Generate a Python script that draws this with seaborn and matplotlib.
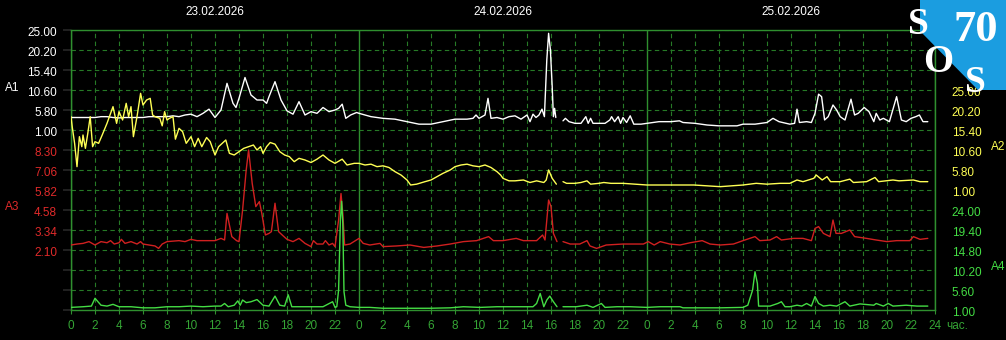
import matplotlib
matplotlib.use("Agg")
import matplotlib.pyplot as plt
from matplotlib.patches import Polygon
from matplotlib.ticker import FixedLocator, FixedFormatter
from matplotlib.transforms import ScaledTranslation
import pandas as pd
import seaborn as sns

# ---------------- data (hours from start of 23.02.2026, value) ----------------
DATES = ["23.02.2026", "24.02.2026", "25.02.2026"]
GAP_AFTER = 40.6          # data missing between ~40.5 h and 41.0 h

A1 = [(0, 4.0), (0.5, 4.0), (1, 4.0), (1.5, 4.0), (2, 4.0), (2.5, 4.2), (3, 4.2), (3.5, 4.0),
      (4, 3.9), (4.5, 4.0), (5, 4.0), (5.5, 4.0), (6, 4.0), (6.5, 4.2), (7, 4.2), (7.5, 4.2),
      (8, 4.2), (8.5, 4.4), (9, 4.2), (9.5, 4.6), (10, 4.8), (10.5, 4.2), (11, 5.0), (11.5, 6.0),
      (12, 4.0), (12.5, 5.8), (13, 12.2), (13.5, 7.4), (13.75, 6.4), (14, 8.6), (14.5, 13.6),
      (15, 9.4), (15.5, 8.2), (16, 8.2), (16.3, 7.4), (16.5, 9.0), (17, 12.6), (17.5, 8.2),
      (18, 5.6), (18.5, 4.8), (19, 7.8), (19.5, 4.6), (20, 5.4), (20.5, 5.0), (21, 6.4),
      (21.5, 5.4), (22, 5.8), (22.3, 6.2), (22.6, 7.2), (22.9, 3.8), (23.3, 4.6), (23.8, 5.2),
      (24, 5.0), (25, 4.2), (25.5, 4.0), (26, 3.8), (27, 3.6), (28, 3.0), (29, 2.4), (30, 2.4),
      (31, 3.0), (32, 3.6), (33, 3.6), (33.5, 3.8), (33.75, 4.6), (34, 3.8), (34.5, 4.6),
      (34.75, 8.6), (35, 3.8), (35.5, 4.0), (36, 3.6), (36.5, 4.2), (37, 4.4), (37.5, 3.6),
      (38, 4.6), (38.25, 3.0), (38.5, 4.8), (38.75, 4.0), (39, 4.6), (39.25, 6.0), (39.45, 4.2),
      (39.65, 17.8), (39.8, 24.2), (39.95, 20.2), (40.1, 11.4), (40.2, 4.2), (40.3, 6.2),
      (40.4, 4.0),
      (41.0, 3.2), (41.2, 3.8), (41.5, 3.0), (42, 2.6), (42.5, 2.6), (42.9, 4.2), (43.1, 2.6),
      (43.3, 3.8), (43.5, 2.6), (44, 2.6), (44.5, 2.6), (44.9, 3.4), (45.05, 4.2), (45.3, 3.0),
      (45.6, 4.2), (45.8, 2.6), (46.0, 4.0), (46.3, 2.8), (46.6, 4.4), (46.9, 2.4), (47.5, 2.4),
      (48, 2.6), (48.5, 2.8), (49, 3.0), (50, 3.0), (50.7, 3.2), (51, 2.8), (52, 2.6), (53, 2.2),
      (54, 2.0), (55.5, 2.0), (56, 2.4), (57, 2.4), (58, 2.8), (58.5, 3.8), (59, 3.0), (59.9, 2.4),
      (60.3, 2.6), (60.5, 6.0), (60.7, 2.8), (61.3, 3.0), (61.7, 2.8), (62, 5.0), (62.3, 9.6),
      (62.55, 9.0), (62.8, 3.4), (63.1, 4.2), (63.5, 7.0), (63.8, 5.8), (64.1, 4.2), (64.5, 3.4),
      (65.0, 8.4), (65.3, 4.6), (65.6, 5.0), (66.1, 6.4), (66.5, 5.4), (66.9, 3.0), (67.1, 5.0),
      (67.4, 3.4), (67.7, 3.8), (68.2, 3.0), (68.8, 9.0), (69.2, 3.4), (69.6, 3.0), (70.0, 3.8),
      (70.4, 4.2), (70.7, 4.6), (71.0, 3.0), (71.4, 3.0)]

A2 = [(0, 18.6), (0.1, 16.2), (0.3, 12.2), (0.5, 6.6), (0.7, 13.8), (0.9, 11.4), (1.0, 14.2),
      (1.2, 11.0), (1.4, 14.6), (1.6, 18.6), (1.8, 11.4), (2.0, 12.6), (2.3, 12.2), (2.6, 14.2),
      (3.0, 17.0), (3.5, 21.0), (3.8, 17.0), (4.0, 19.8), (4.3, 17.8), (4.6, 21.8), (4.8, 18.6),
      (5.0, 21.0), (5.2, 13.8), (5.5, 18.6), (5.8, 24.2), (6.0, 21.4), (6.3, 22.6), (6.6, 23.0),
      (6.8, 19.0), (7.0, 18.6), (7.4, 18.2), (7.6, 16.4), (7.8, 19.8), (8.0, 17.8), (8.2, 18.2),
      (8.5, 18.6), (8.7, 13.2), (9.0, 15.8), (9.3, 15.0), (9.6, 12.2), (10.0, 13.8), (10.3, 11.4),
      (10.6, 13.4), (10.9, 11.4), (11.3, 13.6), (11.6, 12.6), (12.0, 9.4), (12.3, 11.4),
      (12.6, 12.2), (12.9, 13.0), (13.2, 9.8), (13.6, 9.4), (14.0, 10.2), (14.4, 11.0),
      (14.8, 11.4), (15.2, 11.8), (15.5, 10.6), (15.8, 11.4), (16.0, 9.8), (16.3, 11.4),
      (16.6, 12.4), (17.0, 12.0), (17.4, 10.2), (17.8, 9.4), (18.2, 9.0), (18.6, 7.8), (19.0, 8.6),
      (19.5, 8.2), (20.0, 7.6), (20.5, 8.4), (21.0, 9.4), (21.5, 8.2), (22.0, 7.4), (22.6, 8.4),
      (23.0, 7.0), (23.6, 7.4),
      (24.0, 7.4), (24.5, 7.0), (25.0, 7.2), (25.5, 6.6), (26.0, 6.8), (26.5, 6.4), (27.0, 5.4),
      (27.5, 4.6), (28.0, 3.4), (28.3, 2.2), (28.8, 2.4), (29.5, 3.0), (30.0, 3.4), (30.5, 4.2),
      (31.0, 5.0), (31.6, 5.8), (32.0, 6.6), (32.5, 7.0), (33.0, 7.2), (33.5, 6.8), (34.0, 6.6),
      (34.5, 7.0), (35.0, 6.4), (35.5, 5.4), (35.8, 4.6), (36.0, 3.8), (36.5, 3.2), (37.0, 3.2),
      (37.7, 3.4), (38.25, 2.8), (38.8, 3.2), (39.4, 2.8), (39.6, 3.4), (39.8, 5.8), (40.1, 3.8),
      (40.45, 2.4),
      (41.0, 3.0), (41.3, 2.6), (42.0, 2.6), (42.5, 2.8), (43.0, 3.2), (43.3, 2.4), (44.0, 2.6),
      (44.4, 2.8), (45.0, 2.6), (46.0, 2.6), (47.0, 2.4), (48.0, 2.2), (49.0, 2.2), (50.0, 2.2),
      (51.9, 2.2), (54.1, 1.8), (56.0, 2.2), (57.1, 2.6), (58.0, 2.4), (59.1, 2.6), (59.9, 2.6),
      (60.5, 3.4), (61.0, 3.0), (61.9, 3.8), (62.1, 4.6), (62.6, 3.4), (63.0, 4.2), (63.3, 3.0),
      (64.1, 3.0), (64.9, 3.6), (65.2, 2.8), (66.3, 3.0), (67.0, 4.0), (67.3, 3.0), (68.5, 3.4),
      (69.0, 3.2), (70.2, 3.4), (70.75, 3.0), (71.4, 3.0)]

A3 = [(0, 2.41), (0.5, 2.47), (1, 2.51), (1.5, 2.62), (2, 2.41), (2.5, 2.62), (3, 2.55),
      (3.3, 2.68), (3.6, 2.47), (4, 2.55), (4.2, 2.76), (4.5, 2.51), (5, 2.62), (5.5, 2.47),
      (5.8, 2.62), (6, 2.47), (6.5, 2.41), (7, 2.35), (7.3, 2.20), (7.6, 2.47), (8, 2.62),
      (9, 2.68), (9.5, 2.62), (10, 2.76), (10.5, 2.68), (11, 2.68), (12, 2.68), (12.5, 2.82),
      (12.8, 2.72), (13, 4.37), (13.4, 2.93), (13.8, 2.68), (14.0, 2.62), (14.3, 4.58),
      (14.6, 7.06), (14.8, 8.30), (15.1, 6.23), (15.4, 4.79), (15.7, 5.10), (15.9, 4.37),
      (16.2, 3.03), (16.5, 3.13), (16.7, 3.24), (17.0, 5.00), (17.3, 3.24), (17.6, 3.03),
      (18, 2.76), (18.5, 2.62), (19, 2.82), (19.5, 2.51), (20, 2.31), (20.2, 2.68), (20.5, 2.47),
      (21, 2.47), (21.2, 2.68), (21.5, 2.41), (21.8, 2.51), (22, 2.31), (22.3, 3.96),
      (22.5, 5.60), (22.65, 4.37), (22.8, 2.41), (23.25, 2.47), (24.0, 2.82),
      (24.35, 2.51), (24.9, 2.41), (25.75, 2.51), (26.0, 2.31), (27.1, 2.35), (28.25, 2.41),
      (29.4, 2.26), (30.5, 2.35), (31.6, 2.47), (32.7, 2.62), (33.8, 2.68), (34.8, 2.93),
      (35.2, 2.68), (36.0, 2.68), (37.1, 2.82), (37.7, 2.68), (38.8, 2.68), (39.3, 3.03),
      (39.5, 2.72), (39.8, 5.20), (40.0, 4.79), (40.2, 3.13), (40.5, 2.62),
      (41.0, 2.62), (41.6, 2.47), (42.4, 2.47), (43.0, 2.68), (43.25, 2.35), (43.8, 2.20),
      (44.6, 2.41), (46.0, 2.47), (47.7, 2.47), (48.1, 2.62), (48.6, 2.41), (49.1, 2.62),
      (49.9, 2.47), (50.75, 2.41), (51.6, 2.55), (52.6, 2.68), (53.25, 2.47), (54.1, 2.41),
      (55.2, 2.47), (56.0, 2.68), (57.0, 2.93), (57.4, 2.68), (58.25, 2.72), (58.8, 2.93),
      (59.2, 2.72), (60.2, 2.82), (61.0, 2.82), (61.7, 2.68), (62.0, 3.44), (62.3, 3.55),
      (62.7, 3.13), (63.25, 2.93), (63.5, 3.96), (63.75, 3.13), (64.2, 3.13), (64.9, 3.34),
      (65.3, 2.93), (66.3, 2.82), (67.1, 2.72), (68.0, 2.62), (68.8, 2.68), (69.9, 2.68),
      (70.2, 2.93), (70.75, 2.76), (71.4, 2.82)]

A4 = [(0, 1.6), (1, 1.75), (1.7, 1.9), (2.0, 3.7), (2.5, 2.1), (3, 1.9), (3.5, 2.3), (4, 1.75),
      (5, 1.75), (6, 1.5), (7, 1.5), (8, 1.75), (9, 1.75), (10, 1.9), (11, 1.75), (12, 1.9),
      (12.5, 1.9), (12.8, 2.5), (13.1, 1.75), (13.6, 2.1), (13.9, 3.1), (14.1, 2.1), (14.3, 3.3),
      (14.6, 2.7), (15, 2.9), (15.5, 3.4), (16, 2.1), (16.5, 1.9), (17, 4.2), (17.4, 2.1),
      (17.8, 1.9), (18.1, 4.5), (18.4, 1.75), (19, 1.75), (20, 1.75), (21, 1.75), (21.8, 2.9),
      (22.0, 1.6), (22.15, 1.75), (22.3, 5.6), (22.45, 21.7), (22.55, 26.0), (22.65, 21.0),
      (22.75, 5.2), (22.9, 2.1), (23.25, 1.75), (24.0, 1.6),
      (24.9, 1.6), (26.0, 1.4), (28.25, 1.4), (29.9, 1.4), (31.6, 1.5), (32.7, 1.75),
      (34.1, 1.6), (35.5, 1.75), (37.1, 1.75), (38.5, 1.75), (38.8, 2.5), (39.1, 4.8),
      (39.4, 1.75), (39.65, 3.3), (39.9, 4.2), (40.2, 2.9), (40.5, 1.75),
      (41.0, 1.75), (42.1, 1.75), (43.0, 2.1), (43.5, 1.6), (44.2, 2.5), (44.5, 1.6),
      (45.5, 1.75), (46.6, 1.75), (48.0, 1.6), (49.1, 1.75), (50.75, 1.75), (51.0, 1.5),
      (54.1, 1.5), (56.0, 1.6), (56.4, 2.1), (56.8, 5.6), (57.0, 9.8), (57.2, 7.1), (57.3, 1.9),
      (58.25, 1.9), (58.9, 2.5), (59.2, 2.9), (59.5, 1.75), (59.9, 1.75), (60.5, 2.1),
      (60.9, 1.9), (61.3, 2.5), (61.7, 1.9), (62.0, 4.1), (62.3, 2.5), (62.7, 1.9), (63.25, 2.1),
      (63.8, 1.9), (64.5, 2.9), (64.9, 1.9), (65.75, 2.4), (66.9, 2.1), (67.1, 2.5), (67.7, 1.9),
      (68.1, 2.5), (68.5, 1.9), (69.6, 2.1), (70.5, 1.9), (71.4, 1.9)]

A1_TICKS = [25.00, 20.20, 15.40, 10.60, 5.80, 1.00]
A2_TICKS = [25.00, 20.20, 15.40, 10.60, 5.80, 1.00]
A3_TICKS = [8.30, 7.06, 5.82, 4.58, 3.34, 2.10]
A4_TICKS = [24.00, 19.40, 14.80, 10.20, 5.60, 1.00]

# ---------------- styling ----------------
BG = "black"
BORDER = "#2f8f2f"
GRID = "#267a26"
TICKC = "#35a535"
C_A1, C_A2, C_A3, C_A4 = "#ffffff", "#ffff55", "#d02020", "#44dd44"
L_A1, L_A2, L_A3, L_A4 = "#ffffff", "#ffff55", "#e02a2a", "#44dd44"

sns.set_theme(style="dark")
plt.rcParams["font.family"] = ["Liberation Sans", "DejaVu Sans"]

W, H = 1006, 340
L, R, T, B = 71, 935, 30, 310
fig = plt.figure(figsize=(W / 100, H / 100), dpi=100, facecolor=BG)
ax = fig.add_axes([L / W, 1 - B / H, (R - L) / W, (B - T) / H])
ax.set_facecolor(BG)
ax.set_xlim(0, 72)
ax.set_ylim(14, 0)

# grid rows
ax.set_yticks(range(15))
ax.tick_params(axis="y", left=False, labelleft=False)
ax.yaxis.grid(True, color=GRID, ls=(0, (4, 3)), lw=0.8)

# x axis: days (solid) and 2-hour marks (dashed)
major = [0, 24, 48, 72]
minor = [h for h in range(2, 72, 2) if h % 24 != 0]
ax.xaxis.set_major_locator(FixedLocator(major))
ax.xaxis.set_major_formatter(FixedFormatter(["0", "0", "0", "24"]))
ax.xaxis.set_minor_locator(FixedLocator(minor))
ax.xaxis.set_minor_formatter(FixedFormatter([str(h % 24) for h in minor]))
ax.xaxis.grid(True, which="major", color=BORDER, ls="-", lw=1.0)
ax.xaxis.grid(True, which="minor", color=GRID, ls=(0, (4, 3)), lw=0.8)
ax.tick_params(axis="x", which="both", bottom=True, length=3, width=0.8, color=BORDER,
               labelcolor=TICKC, labelsize=8.5, pad=4)
for s in ax.spines.values():
    s.set_visible(True)
    s.set_color(BORDER)
    s.set_linewidth(1.0)
ax.annotate("час.", xy=(72, 0), xycoords=("data", "axes fraction"), xytext=(8, -7),
            textcoords="offset points", ha="left", va="top", color=TICKC, fontsize=8.5)

for i, d in enumerate(DATES):
    ax.text(12 + 24 * i, 1 + 18 / (B - T), d, transform=ax.get_xaxis_transform(),
            ha="center", va="center", color="white", fontsize=8.5)


def make_twin(side, ticks, color, pad):
    a = ax.twinx()
    for s in a.spines.values():
        s.set_visible(False)
    a.grid(False)
    a.set_yticks(ticks, labels=[f"{t:.2f}" for t in ticks], va="top")
    if side == "left":
        a.yaxis.tick_left()
    else:
        a.yaxis.tick_right()
    a.tick_params(axis="y", length=0, pad=pad, labelsize=8.5, labelcolor=color)
    return a


def draw(a, pairs, color, lims):
    df = pd.DataFrame(pairs, columns=["hour", "value"])
    df["seg"] = (df["hour"] > GAP_AFTER).astype(int)
    sns.lineplot(data=df, x="hour", y="value", units="seg", estimator=None,
                 color=color, lw=1.0, ax=a)
    a.set_xlabel("")
    a.set_ylabel("")
    a.set_ylim(*lims)


a1 = make_twin("left", A1_TICKS, L_A1, 10)
a2 = make_twin("right", A2_TICKS, L_A2, 12)
a3 = make_twin("left", A3_TICKS, L_A3, 10)
a4 = make_twin("right", A4_TICKS, L_A4, 12)

draw(a1, A1, C_A1, (-42.2, 25.0))
draw(a2, A2, C_A2, (-27.8, 39.4))
draw(a3, A3, C_A3, (-1.62, 15.74))
draw(a4, A4, C_A4, (1.0, 65.4))
ax.set_xlim(0, 72)

# nudge value labels up a little so their tops sit on the grid line
lift = ScaledTranslation(0, 2.5 / 100, fig.dpi_scale_trans)
for a in (a1, a2, a3, a4):
    for t in a.yaxis.get_major_ticks():
        t.label1.set_transform(t.label1.get_transform() + lift)
        t.label2.set_transform(t.label2.get_transform() + lift)

# series names
fig.text(5 / W, 1 - 88 / H, "A1", color=L_A1, fontsize=8.5, ha="left", va="center")
fig.text(5 / W, 1 - 207 / H, "A3", color=L_A3, fontsize=8.5, ha="left", va="center")
fig.text(991 / W, 1 - 147 / H, "A2", color=L_A2, fontsize=8.5, ha="left", va="center")
fig.text(991 / W, 1 - 267 / H, "A4", color=L_A4, fontsize=8.5, ha="left", va="center")

# logo
poly = [(920, 0), (1006, 0), (1006, 90), (978, 90), (922, 33), (920, 33)]
fig.add_artist(Polygon([(x / W, 1 - y / H) for x, y in poly], closed=True,
                       transform=fig.transFigure, facecolor="#1b9de0",
                       edgecolor="none", zorder=10))
logo_font = dict(family=["Liberation Serif", "DejaVu Serif"], weight="bold",
                 color="white", ha="center", va="center", zorder=11)
fig.text(918 / W, 1 - 24 / H, "S", fontsize=27, **logo_font)
fig.text(976 / W, 1 - 30 / H, "70", fontsize=32, **logo_font)
fig.text(938 / W, 1 - 62 / H, "O", fontsize=28, **logo_font)
fig.text(975 / W, 1 - 83 / H, "S", fontsize=27, **logo_font)

fig.savefig("out.png", dpi=100, facecolor=BG)
